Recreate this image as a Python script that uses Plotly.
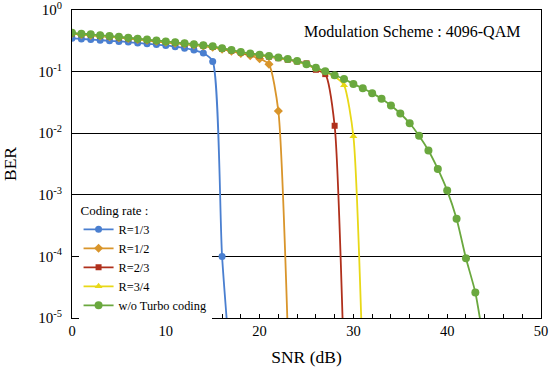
import plotly.graph_objects as go

snr_r13 = list(range(0, 18))
ber_r13 = [0.347, 0.339, 0.331, 0.324, 0.316, 0.309, 0.302, 0.292, 0.282, 0.275,
           0.266, 0.254, 0.240, 0.224, 0.200, 0.146, 1.0e-4, 1.0e-6]

snr_r12 = list(range(0, 24))
ber_r12 = [0.415, 0.400, 0.390, 0.378, 0.368, 0.356, 0.345, 0.333, 0.322, 0.311,
           0.300, 0.290, 0.280, 0.270, 0.260, 0.248, 0.232, 0.215, 0.198, 0.182,
           0.162, 0.132, 0.0229, 6.0e-6]

snr_r23 = list(range(0, 30))
ber_r23 = [0.418, 0.403, 0.394, 0.380, 0.371, 0.359, 0.347, 0.336, 0.324, 0.313,
           0.302, 0.292, 0.282, 0.273, 0.263, 0.251, 0.235, 0.219, 0.204, 0.192,
           0.183, 0.175, 0.165, 0.156, 0.146, 0.136, 0.107, 0.091, 0.0132, 1.5e-6]

snr_r34 = list(range(0, 32))
ber_r34 = [0.420, 0.405, 0.396, 0.382, 0.373, 0.361, 0.349, 0.338, 0.326, 0.315,
           0.304, 0.294, 0.284, 0.275, 0.265, 0.253, 0.237, 0.221, 0.206, 0.194,
           0.185, 0.177, 0.167, 0.158, 0.146, 0.130, 0.113, 0.099, 0.083, 0.060,
           0.0089, 1.5e-6]

snr_unc = list(range(0, 45))
ber_unc = [0.427, 0.412, 0.403, 0.389, 0.380, 0.367, 0.355, 0.343, 0.331, 0.320,
           0.309, 0.299, 0.288, 0.279, 0.269, 0.257, 0.240, 0.224, 0.209, 0.197,
           0.188, 0.180, 0.170, 0.160, 0.148, 0.132, 0.115, 0.101, 0.0871, 0.0759,
           0.0631, 0.0537, 0.0447, 0.0363, 0.0282, 0.0209, 0.0145, 0.00912, 0.00525, 0.00263,
           0.00117, 0.000407, 9.3e-5, 2.6e-5, 3.2e-6]

series = [
    ("R=1/3", snr_r13, ber_r13, "#4A7FD0", "circle", 7),
    ("R=1/2", snr_r12, ber_r12, "#D9952B", "diamond", 7),
    ("R=2/3", snr_r23, ber_r23, "#B0301C", "square", 6),
    ("R=3/4", snr_r34, ber_r34, "#E8D817", "triangle-up", 7),
    ("w/o Turbo coding", snr_unc, ber_unc, "#6AA83E", "circle", 8),
]

y_tickvals = [1, 0.1, 0.01, 0.001, 1e-4, 1e-5]
y_ticktext = ["10<sup>0</sup>", "10<sup>-1</sup>", "10<sup>-2</sup>",
              "10<sup>-3</sup>", "10<sup>-4</sup>", "10<sup>-5</sup>"]

fig = go.Figure()
for name, x, y, color, sym, size in series:
    fig.add_trace(go.Scatter(
        x=x, y=y, name=name, mode="lines+markers",
        line=dict(color=color, width=1.8, shape="spline", smoothing=0.6),
        marker=dict(symbol=sym, size=size, color=color),
    ))

serif = "Liberation Serif"
fig.update_layout(
    width=550, height=372,
    margin=dict(l=72, r=9, t=10, b=54),
    paper_bgcolor="white", plot_bgcolor="white",
    font=dict(family=serif, size=14, color="black"),
    showlegend=True,
    legend=dict(
        x=0.014, y=0.39, xanchor="left", yanchor="top",
        bgcolor="white", borderwidth=0,
        font=dict(family=serif, size=12.3),
        title=dict(text="Coding rate :", font=dict(family=serif, size=13)),
        tracegroupgap=0, itemwidth=30,
    ),
    annotations=[dict(
        text="Modulation Scheme : 4096-QAM", x=0.959, y=0.93,
        xref="paper", yref="paper", xanchor="right", yanchor="middle",
        showarrow=False, font=dict(family=serif, size=16),
    )],
)
fig.update_xaxes(
    range=[0, 50], dtick=10, showgrid=False, zeroline=False, automargin=False,
    showline=True, linecolor="black", linewidth=1, mirror=True,
    ticks="inside", ticklen=4, tickcolor="black",
    minor=dict(dtick=2, ticks="inside", ticklen=4, tickcolor="black"),
    tickfont=dict(family=serif, size=14.5),
    title=dict(text="SNR (dB)", font=dict(family=serif, size=17.5), standoff=12),
)
fig.update_yaxes(
    type="log", range=[-5, 0], tickvals=y_tickvals, ticktext=y_ticktext,
    showgrid=True, gridcolor="black", gridwidth=1, zeroline=False, automargin=False,
    showline=True, linecolor="black", linewidth=1, mirror=True,
    ticks="", tickfont=dict(family=serif, size=15), ticklabelstandoff=6,
    ticklabeloverflow="allow",
    title=dict(text="BER", font=dict(family=serif, size=17.5), standoff=20),
)

fig.write_html("out.html", config={"displayModeBar": False},
               post_script="document.body.style.margin='0';")
